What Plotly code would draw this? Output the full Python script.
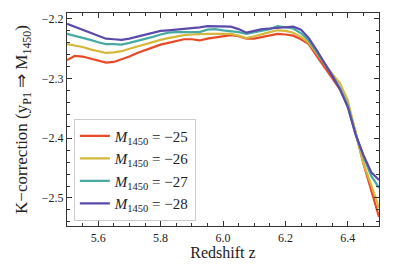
import plotly.graph_objects as go

redshift = [5.5, 5.525, 5.55, 5.575, 5.6, 5.625, 5.65, 5.675, 5.7, 5.725,
            5.75, 5.775, 5.8, 5.825, 5.85, 5.875, 5.9, 5.925, 5.95, 5.975,
            6.0, 6.025, 6.05, 6.075, 6.1, 6.125, 6.15, 6.175, 6.2, 6.225,
            6.25, 6.275, 6.3, 6.325, 6.35, 6.375, 6.4, 6.425, 6.45, 6.475, 6.5]

k_m25 = [-2.269, -2.262, -2.263, -2.266, -2.270, -2.273, -2.272, -2.268, -2.263, -2.257,
         -2.252, -2.247, -2.243, -2.240, -2.237, -2.234, -2.234, -2.236, -2.233, -2.231,
         -2.229, -2.227, -2.229, -2.233, -2.233, -2.230, -2.227, -2.225, -2.226, -2.228,
         -2.234, -2.242, -2.262, -2.280, -2.298, -2.318, -2.345, -2.390, -2.442, -2.485, -2.532]

k_m26 = [-2.242, -2.244, -2.247, -2.251, -2.254, -2.257, -2.256, -2.254, -2.250, -2.246,
         -2.242, -2.238, -2.235, -2.232, -2.229, -2.227, -2.226, -2.225, -2.225, -2.225,
         -2.225, -2.225, -2.228, -2.232, -2.229, -2.225, -2.222, -2.219, -2.220, -2.223,
         -2.230, -2.240, -2.258, -2.276, -2.292, -2.308, -2.337, -2.390, -2.442, -2.478, -2.517]

k_m27 = [-2.225, -2.228, -2.231, -2.235, -2.239, -2.242, -2.242, -2.243, -2.240, -2.237,
         -2.234, -2.230, -2.226, -2.223, -2.222, -2.222, -2.222, -2.222, -2.218, -2.217,
         -2.219, -2.220, -2.222, -2.225, -2.222, -2.219, -2.217, -2.212, -2.214, -2.216,
         -2.224, -2.236, -2.255, -2.274, -2.294, -2.316, -2.345, -2.393, -2.430, -2.463, -2.483]

k_m28 = [-2.208, -2.213, -2.218, -2.223, -2.228, -2.233, -2.234, -2.235, -2.233, -2.230,
         -2.227, -2.223, -2.220, -2.219, -2.218, -2.217, -2.216, -2.214, -2.212, -2.212,
         -2.212, -2.213, -2.217, -2.223, -2.220, -2.217, -2.216, -2.215, -2.213, -2.213,
         -2.218, -2.232, -2.252, -2.273, -2.295, -2.318, -2.348, -2.394, -2.428, -2.457, -2.470]

series_labels = ["\u221225", "\u221226", "\u221227", "\u221228"]
series_values = [k_m25, k_m26, k_m27, k_m28]
series_colors = ["#E84A28", "#D4B83A", "#47AAA4", "#5A4AAA"]

x_ticks = [5.6, 5.8, 6.0, 6.2, 6.4]
y_ticks = [-2.2, -2.3, -2.4, -2.5]

fig = go.Figure()
for lab, vals, col in zip(series_labels, series_values, series_colors):
    fig.add_trace(go.Scatter(
        x=redshift, y=vals, mode="lines",
        line=dict(color=col, width=2.2),
        name="<i>M</i><sub>1450</sub> = " + lab,
    ))

font_family = "Liberation Serif"
axis_common = dict(
    showline=True, linecolor="#333333", linewidth=1.2, mirror="allticks",
    ticks="inside", ticklen=5, tickwidth=1, tickcolor="#333333",
    showgrid=False, zeroline=False, automargin=False,
    tickfont=dict(family=font_family, size=12, color="#222222"),
)

fig.update_xaxes(
    range=[5.5, 6.5], tickvals=x_ticks, ticktext=[f"{v:.1f}" for v in x_ticks],
    minor=dict(ticks="inside", dtick=0.05, tick0=5.5, ticklen=3, tickcolor="#333333", showgrid=False),
    title=dict(text="Redshift z", font=dict(family=font_family, size=16, color="#222222"), standoff=2),
    **axis_common,
)
fig.update_yaxes(
    range=[-2.547, -2.19], tickvals=y_ticks, ticktext=[f"\u2212{abs(v):.1f}" for v in y_ticks],
    minor=dict(ticks="inside", dtick=0.02, tick0=-2.2, ticklen=3, tickcolor="#333333", showgrid=False),
    title=dict(text="K\u2212correction (y<sub>P1</sub> \u21d2 M<sub>1450</sub>)",
               font=dict(family=font_family, size=17, color="#222222"), standoff=9),
    **axis_common,
)

fig.update_layout(
    width=391, height=258,
    margin=dict(l=59, r=20, t=5, b=40),
    paper_bgcolor="white", plot_bgcolor="white",
    font=dict(family=font_family, color="#222222"),
    legend=dict(
        x=0.022, y=0.025, xanchor="left", yanchor="bottom",
        bgcolor="rgba(255,255,255,0.85)", bordercolor="#CCCCCC", borderwidth=1,
        font=dict(family=font_family, size=15, color="#222222"),
        tracegroupgap=0, itemwidth=30,
    ),
)

fig.write_html("out.html")
